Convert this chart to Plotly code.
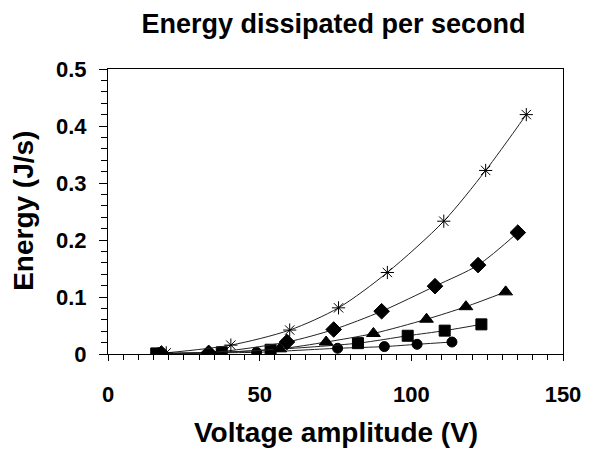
import plotly.graph_objects as go

# Voltage amplitude (V) and energy (J/s) for each series
v_star = [19.2, 40.5, 59.9, 76.0, 92.1, 110.7, 124.5, 137.9]
e_star = [0.002, 0.0156, 0.042, 0.081, 0.143, 0.233, 0.322, 0.420]

v_diamond = [17.6, 33.2, 59.0, 74.4, 90.2, 107.8, 122.0, 135.1]
e_diamond = [0.001, 0.002, 0.021, 0.043, 0.075, 0.119, 0.156, 0.213]

v_triangle = [16.5, 36.9, 56.6, 71.9, 87.5, 105.0, 118.0, 131.1]
e_triangle = [0.001, 0.003, 0.009, 0.021, 0.036, 0.061, 0.083, 0.109]

v_square = [15.9, 37.5, 53.6, 82.4, 98.8, 111.0, 123.1]
e_square = [0.001, 0.003, 0.0075, 0.019, 0.032, 0.041, 0.052]

v_circle = [17.0, 33.2, 49.0, 75.7, 91.1, 101.9, 113.4]
e_circle = [0.001, 0.002, 0.003, 0.010, 0.013, 0.017, 0.021]

x_ticks = [0, 50, 100, 150]
y_ticks = [0, 0.1, 0.2, 0.3, 0.4, 0.5]
y_tick_labels = ["0", "0.1", "0.2", "0.3", "0.4", "0.5"]

FONT = "Liberation Sans, Arial, sans-serif"

series = [
    (v_circle, e_circle, "circle", 10),
    (v_square, e_square, "square", 11),
    (v_triangle, e_triangle, "triangle-up", 12),
    (v_diamond, e_diamond, "diamond", 12),
    (v_star, e_star, "asterisk-open", 11),
]

fig = go.Figure()
for xs, ys, sym, size in series:
    fig.add_trace(go.Scatter(
        x=xs, y=ys, mode="lines+markers",
        line=dict(color="#222222", width=1, shape="spline", smoothing=0.8),
        marker=dict(symbol=sym, size=size, color="black",
                    line=dict(color="black", width=1)),
        showlegend=False,
    ))

# page body has an 8px margin, so the figure is 8px smaller and shifted
fig.update_layout(
    width=585, height=443,
    margin=dict(l=99.5, r=21.5, t=60.5, b=96.5, pad=0),
    paper_bgcolor="white", plot_bgcolor="white",
    title=dict(text="<b>Energy dissipated per second</b>", x=0.5564, xanchor="center",
               xref="container", y=0.964, yanchor="middle", yref="container",
               font=dict(family=FONT, size=27, color="black")),
    font=dict(family=FONT, color="black"),
    annotations=[
        dict(text="<b>Voltage amplitude (V)</b>", xref="paper", yref="paper",
             x=0.502, y=-0.2745, xanchor="center", yanchor="middle", showarrow=False,
             font=dict(family=FONT, size=28, color="black")),
        dict(text="<b>Energy (J/s)</b>", xref="paper", yref="paper",
             x=-0.186, y=0.5035, xanchor="center", yanchor="middle", showarrow=False,
             textangle=-90, font=dict(family=FONT, size=28, color="black")),
    ],
)
fig.update_xaxes(
    range=[0, 150], tickvals=x_ticks, ticktext=[f"<b>{t}</b>" for t in x_ticks],
    showgrid=False, zeroline=False,
    showline=True, linecolor="black", linewidth=1, mirror=True,
    ticks="outside", ticklen=6, tickcolor="black", tickwidth=1,
    minor=dict(dtick=5, ticks="outside", ticklen=5, tickcolor="black", tickwidth=1, showgrid=False),
    tickfont=dict(family=FONT, size=22, color="black"),
    ticklabelstandoff=15, ticklabeloverflow="allow",
)
fig.update_yaxes(
    range=[0, 0.5], tickvals=y_ticks, ticktext=[f"<b>{t}</b>" for t in y_tick_labels],
    showgrid=False, zeroline=False,
    showline=True, linecolor="black", linewidth=1, mirror=True,
    ticks="outside", ticklen=8, tickcolor="black", tickwidth=1,
    minor=dict(dtick=0.02, ticks="outside", ticklen=6, tickcolor="black", tickwidth=1, showgrid=False),
    tickfont=dict(family=FONT, size=22, color="black"),
    ticklabelstandoff=8, ticklabeloverflow="allow",
)

fig.write_html("out.html")
